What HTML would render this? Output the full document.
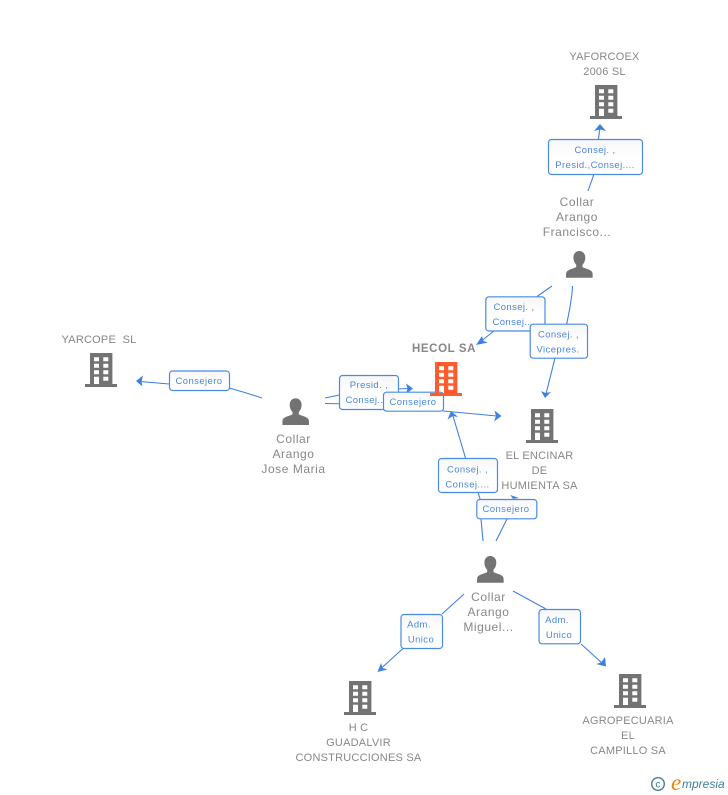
<!DOCTYPE html>
<html><head><meta charset="utf-8"><style>
html,body{margin:0;padding:0;background:#fff}
svg{display:block}
.n{font-family:"Liberation Sans",sans-serif;font-size:11px;fill:#878787;text-anchor:middle;letter-spacing:.22px}
.p{font-size:12px;letter-spacing:.55px}
.e{font-family:"Liberation Sans",sans-serif;font-size:9.5px;fill:#4a86e0;text-anchor:middle;letter-spacing:.4px}
.l{fill:none;stroke:#3f80e0;stroke-width:1.1}
.a{fill:#3f80e0}
.b{fill:url(#g);stroke:#4a8be2;stroke-width:1.2}
</style></head><body>
<svg width="728" height="795" viewBox="0 0 728 795" xmlns="http://www.w3.org/2000/svg">
<defs>
<linearGradient id="g" x1="0" y1="0" x2="0" y2="1"><stop offset="0" stop-color="#f6f6f6"/><stop offset=".5" stop-color="#fff"/></linearGradient>
<symbol id="bd" width="32" height="35" viewBox="0 0 32 35" overflow="visible">
<path fill-rule="evenodd" fill="currentColor" d="M5 0H27.400V31H32V34H0V31H5Z M9 4.300V8.300H14V4.300Z M18.300 4.300V8.300H23.300V4.300Z M9 10.700V14.700H14V10.700Z M18.300 10.700V14.700H23.300V10.700Z M9 17.300V21.300H14V17.300Z M18.300 17.300V21.300H23.300V17.300Z M9 23.700V31H14V23.700Z M18.300 23.700V27.700H23.300V23.700Z"/>
</symbol>
<symbol id="pr" width="27" height="27" viewBox="0 0 27 27">
<path fill="#737373" d="M13.300 0C9.800 0 7.400 2.800 7.400 6.500C7.400 9.600 8.600 12.200 10.200 13.700V16C8 17.700 1.500 18.200 0.300 21.500C0 23 0 25 0 26.700H26.700C26.700 25 26.700 23 26.400 21.500C25.200 18.200 18.700 17.700 16.500 16V13.700C18.100 12.200 19.300 9.600 19.300 6.500C19.300 2.800 16.800 0 13.300 0Z"/>
</symbol>
</defs>

<!-- connectors -->
<path class="l" d="M588 191L594 174M598.500 139L600 127"/>
<path class="a" d="M600 124L606 131L600 129.500L594 131Z"/>
<path class="l" d="M552 286L537 296.500M494 331L480 342"/>
<path class="a" d="M476 345L482 336L483.500 341L488 342.500Z"/>
<path class="l" d="M572.500 286C572 300 569 312 566.500 325M555 358L546 394"/>
<path class="a" d="M545 398L541 391L545.500 393L551 392Z"/>
<path class="l" d="M262 398C250 394 240 391 229 388M169 384L140 381.500"/>
<path class="a" d="M136 381L143 375.500L141.500 381.500L142.500 386.500Z"/>
<path class="l" d="M325 398L339.500 395M398 389L408 388.500M325 403.500L383 404.500M443 411L497 416"/>
<path class="a" d="M413 388.500L406 383.500L407.500 388.500L406 394Z"/>
<path class="a" d="M501.500 416L494.500 410.500L496 416L494 421.500Z"/>
<path class="l" d="M483 541L481 519M480 499L478 492M465.500 458L453 416"/>
<path class="a" d="M451 411L458 417L453 416L447.500 419.500Z"/>
<path class="l" d="M496 541L507 519"/>
<path class="a" d="M519 498L510 495L513 498.500L509 499.500Z"/>
<path class="l" d="M464 594L442 614M403 648.500L381 668.500"/>
<path class="a" d="M377.500 672L381 663L382.500 668L387.500 669.500Z"/>
<path class="l" d="M513 591L546 609M581 644L602 663"/>
<path class="a" d="M606 666.500L596 664L601 662.500L605 657Z"/>

<!-- edge labels -->
<rect class="b" x="548.500" y="139.500" width="94" height="35" rx="3"/>
<text class="e" x="595" y="153">Consej. ,</text><text class="e" x="595" y="168">Presid.,Consej....</text>
<rect class="b" x="485.800" y="296.800" width="59.200" height="34.200" rx="3"/>
<text class="e" x="514" y="310">Consej. ,</text><text class="e" x="513" y="325">Consej...</text>
<rect class="b" x="530.200" y="324.200" width="57.300" height="34" rx="3"/>
<text class="e" x="558.500" y="337.500">Consej. ,</text><text class="e" x="558" y="352.500">Vicepres.</text>
<rect class="b" x="339.500" y="375.500" width="59" height="34" rx="3"/>
<text class="e" x="369" y="388">Presid. ,</text><text class="e" x="366" y="403">Consej...</text>
<rect class="b" x="383.500" y="392.200" width="60" height="19" rx="3"/>
<text class="e" x="413" y="405">Consejero</text>
<rect class="b" x="438.500" y="458.500" width="59" height="34" rx="3"/>
<text class="e" x="467.500" y="472.500">Consej. ,</text><text class="e" x="467.500" y="487.500">Consej....</text>
<rect class="b" x="476.800" y="499.500" width="60" height="19.300" rx="3"/>
<text class="e" x="506" y="512">Consejero</text>
<rect class="b" x="169.500" y="371" width="60" height="19.500" rx="3"/>
<text class="e" x="199" y="384">Consejero</text>
<rect class="b" x="401" y="614.500" width="41.500" height="34" rx="3"/>
<text class="e" x="419" y="627.500">Adm.</text><text class="e" x="421" y="642.500">Unico</text>
<rect class="b" x="539" y="609.500" width="41.500" height="34.300" rx="3"/>
<text class="e" x="557" y="623">Adm.</text><text class="e" x="559" y="638">Unico</text>

<!-- nodes -->
<use href="#bd" x="590" y="85" color="#737373"/>
<use href="#bd" x="430" y="362" color="#ff5c2e"/>
<use href="#bd" x="526" y="409" color="#737373"/>
<use href="#bd" x="85" y="353" color="#737373"/>
<use href="#bd" x="344" y="681" color="#737373"/>
<use href="#bd" x="614" y="674" color="#737373"/>
<use href="#pr" x="566" y="251"/>
<use href="#pr" x="282.300" y="398.300"/>
<use href="#pr" x="477" y="556"/>

<!-- node labels -->
<text class="n" x="604.500" y="60">YAFORCOEX</text><text class="n" x="604.500" y="75">2006 SL</text>
<text class="n p" x="577" y="206">Collar</text><text class="n p" x="577" y="221">Arango</text><text class="n p" x="577" y="236">Francisco...</text>
<text class="n" x="444" y="352" style="font-weight:bold;font-size:11.500px;letter-spacing:.6px">HECOL SA</text>
<text class="n" x="539.500" y="459">EL ENCINAR</text><text class="n" x="539.500" y="474">DE</text><text class="n" x="539.500" y="489">HUMIENTA SA</text>
<text class="n" x="99" y="343" xml:space="preserve">YARCOPE  SL</text>
<text class="n p" x="293.500" y="443">Collar</text><text class="n p" x="293.500" y="458">Arango</text><text class="n p" x="293.500" y="473">Jose Maria</text>
<text class="n p" x="488.500" y="601">Collar</text><text class="n p" x="488.500" y="616">Arango</text><text class="n p" x="488.500" y="631">Miguel...</text>
<text class="n" x="358.500" y="731">H C</text><text class="n" x="358.500" y="746">GUADALVIR</text><text class="n" x="358.500" y="761">CONSTRUCCIONES SA</text>
<text class="n" x="628" y="724">AGROPECUARIA</text><text class="n" x="628" y="739">EL</text><text class="n" x="628" y="754">CAMPILLO SA</text>

<!-- logo -->
<circle cx="658" cy="784" r="6.300" fill="none" stroke="#3f7f98" stroke-width="1.400"/>
<text x="658" y="787.500" text-anchor="middle" style="font-family:'Liberation Sans',sans-serif;font-size:10px;fill:#3f7f98">c</text>
<text x="671" y="790" style="font-family:'Liberation Serif',serif;font-style:italic;font-size:23px;fill:#f08010">e</text>
<text x="682" y="788" style="font-family:'Liberation Sans',sans-serif;font-style:italic;font-size:12px;fill:#3f7f98">mpresia</text>
</svg>
</body></html>
